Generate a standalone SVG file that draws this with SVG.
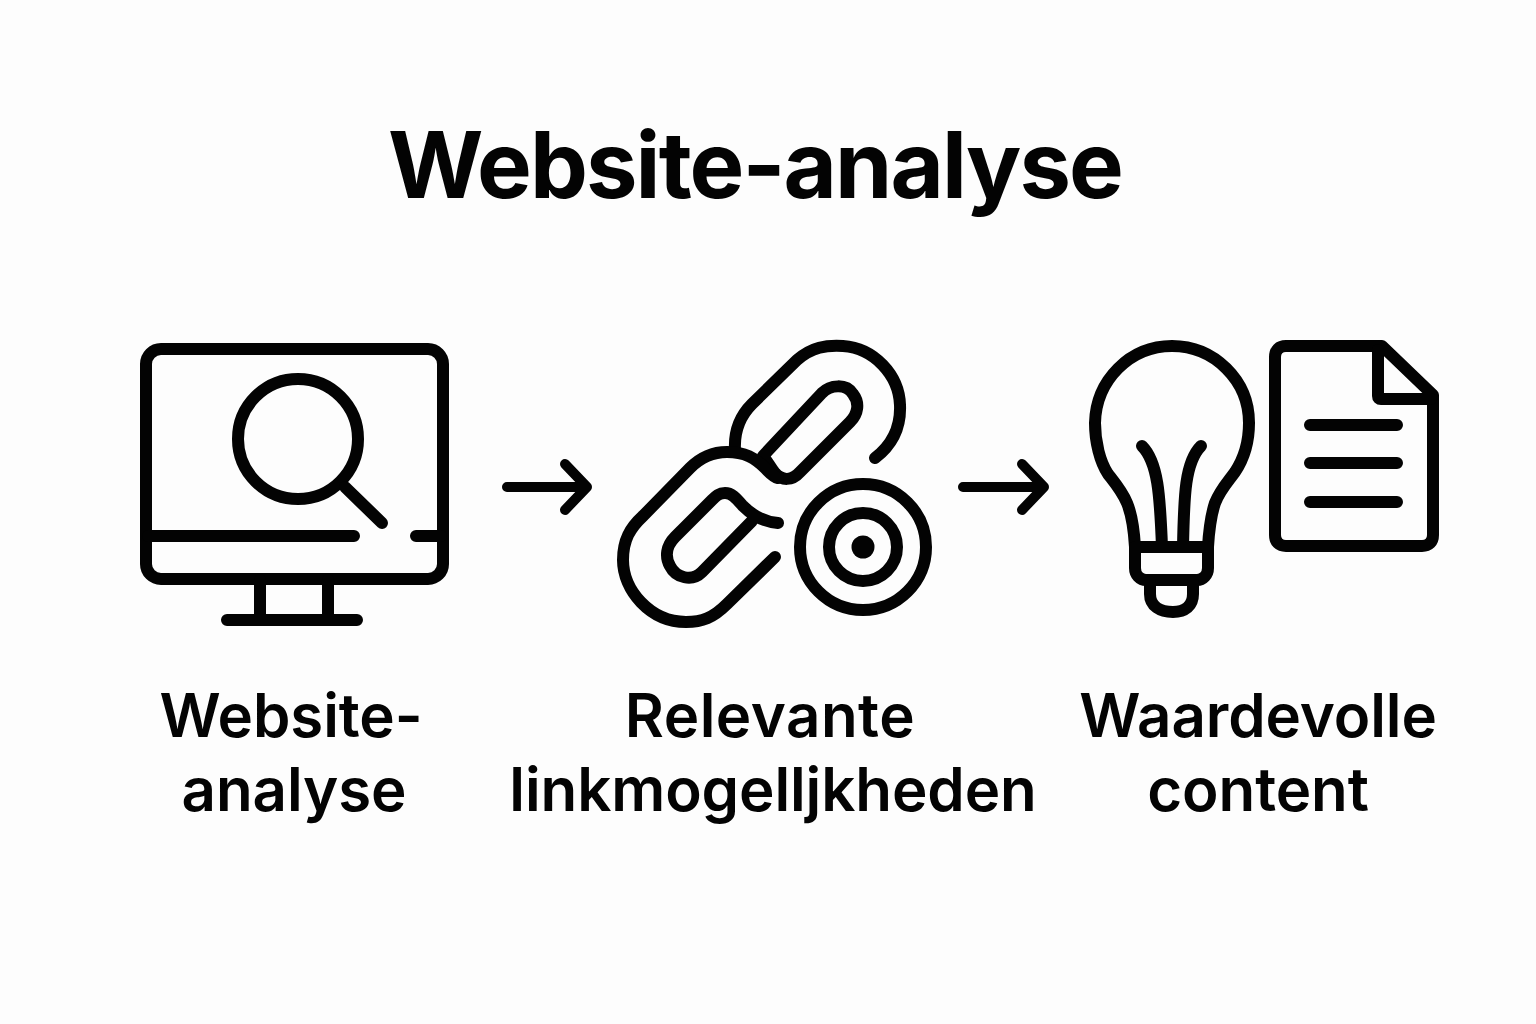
<svg xmlns="http://www.w3.org/2000/svg" width="1536" height="1024" viewBox="0 0 1536 1024">
<style>
text{fill:#030303;text-anchor:middle;font-family:"Inter","Liberation Sans",sans-serif}
.t{font-size:92px;font-weight:700;letter-spacing:-1.9px}
.l{font-size:60px;font-weight:600;letter-spacing:-0.1px}
.s{fill:none;stroke:#030303;stroke-width:12;stroke-linecap:round;stroke-linejoin:round}
.a{stroke-width:10}
</style>
<rect width="1536" height="1024" fill="#fdfdfd"/>
<text class="t" x="755" y="198">Website-analyse</text>
<g id="node-analysis" class="s">
<rect x="146" y="349" width="297" height="230" rx="15"/>
<path d="M148 536H354M416 536H441"/>
<path d="M260 580V620M328 580V620M227 620H357"/>
<circle cx="298" cy="439" r="60"/>
<path d="M345 487L382 523"/>
</g>
<g id="node-links" class="s">
<path d="M735 450C734 432 739 417 752 404L797 360C812 347 826 345 843 346C874 348 899 375 900 405C901 428 892 445 875 458"/>
<path d="M763 456L822 393C830 385 846 383 853 394C860 403 858 414 850 422L800 472C792 481 782 481 775 473C770 467 768 462 763 456Z"/>
<path d="M775 557L727 604C713 618 702 622 686 622C650 622 623 590 623 560C623 540 630 528 643 516L690 468C703 455 716 452 727 452C745 452 755 458 765 468C770 473 773 477 778 478"/>
<path d="M778 523C765 522 752 515 743 506C736 498 732 493 725 493C719 493 716 496 712 500L675 537C666 546 665 557 670 566C676 578 692 582 702 572L752 521"/>
<circle cx="863" cy="547" r="63"/>
<circle cx="863" cy="547" r="34"/>
<circle cx="863" cy="547" r="11.500" fill="#030303" stroke="none"/>
</g>
<g id="node-content" class="s">
<path d="M1135 547C1134 530 1132 515 1127 503C1122 491 1115 483 1108 474C1100 462 1095 442 1095 423C1096 380 1130 346 1172 346C1214 346 1249 380 1249 423C1249 442 1243 460 1235 472C1227 483 1220 490 1215 503C1211 515 1209 530 1208 547"/>
<path d="M1142 446C1158 462 1160 495 1162 547M1201 446C1185 462 1184 495 1183 547"/>
<path d="M1135 547H1208V568C1208 575 1203 580 1197 580H1146C1140 580 1135 575 1135 568Z"/>
<path d="M1150 582V594C1150 606 1160 612 1173 612C1185 612 1193 606 1193 594V582"/>
<path d="M1382 346H1286C1279 346 1275 350 1275 357V535C1275 542 1279 546 1286 546H1422C1429 546 1433 542 1433 535V395Z"/>
<path d="M1378 350V396C1378 398 1379 399 1381 399H1431"/>
<path d="M1310 425H1397M1310 463H1397M1310 502H1397"/>
</g>
<g id="connectors" class="s">
<path class="a" d="M507 487H587M565 464L587 487L565 510"/>
<path class="a" d="M963 487H1044M1022 464L1044 487L1022 510"/>
</g>
<g id="label-analysis"><text class="l" x="291" y="737">Website-</text><text class="l" x="294" y="811">analyse</text></g>
<g id="label-links"><text class="l" x="770" y="737" style="letter-spacing:.5px">Relevante</text><text class="l" x="773" y="811">linkmogelljkheden</text></g>
<g id="label-content"><text class="l" x="1258" y="737">Waardevolle</text><text class="l" x="1258" y="811">content</text></g>
</svg>
